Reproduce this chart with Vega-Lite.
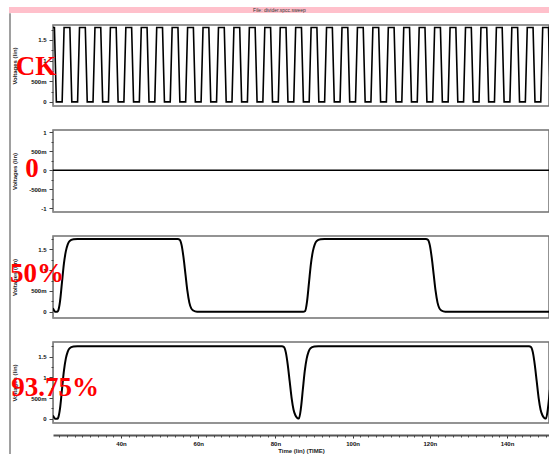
{
  "$schema": "https://vega.github.io/schema/vega-lite/v6.json",
  "padding": {"left": 8, "top": 7, "right": 0, "bottom": 0},
  "background": "white",
  "config": {"font": "Liberation Sans", "axis": {"grid": false}},
  "datasets": {
    "ck": [
      {"t": 22.0, "v": 1.8}, {"t": 22.75, "v": 1.8}, {"t": 23.25, "v": 0},
      {"t": 24.75, "v": 0}, {"t": 25.25, "v": 1.8}, {"t": 26.75, "v": 1.8}, {"t": 27.25, "v": 0},
      {"t": 28.75, "v": 0}, {"t": 29.25, "v": 1.8}, {"t": 30.75, "v": 1.8}, {"t": 31.25, "v": 0},
      {"t": 32.75, "v": 0}, {"t": 33.25, "v": 1.8}, {"t": 34.75, "v": 1.8}, {"t": 35.25, "v": 0},
      {"t": 36.75, "v": 0}, {"t": 37.25, "v": 1.8}, {"t": 38.75, "v": 1.8}, {"t": 39.25, "v": 0},
      {"t": 40.75, "v": 0}, {"t": 41.25, "v": 1.8}, {"t": 42.75, "v": 1.8}, {"t": 43.25, "v": 0},
      {"t": 44.75, "v": 0}, {"t": 45.25, "v": 1.8}, {"t": 46.75, "v": 1.8}, {"t": 47.25, "v": 0},
      {"t": 48.75, "v": 0}, {"t": 49.25, "v": 1.8}, {"t": 50.75, "v": 1.8}, {"t": 51.25, "v": 0},
      {"t": 52.75, "v": 0}, {"t": 53.25, "v": 1.8}, {"t": 54.75, "v": 1.8}, {"t": 55.25, "v": 0},
      {"t": 56.75, "v": 0}, {"t": 57.25, "v": 1.8}, {"t": 58.75, "v": 1.8}, {"t": 59.25, "v": 0},
      {"t": 60.75, "v": 0}, {"t": 61.25, "v": 1.8}, {"t": 62.75, "v": 1.8}, {"t": 63.25, "v": 0},
      {"t": 64.75, "v": 0}, {"t": 65.25, "v": 1.8}, {"t": 66.75, "v": 1.8}, {"t": 67.25, "v": 0},
      {"t": 68.75, "v": 0}, {"t": 69.25, "v": 1.8}, {"t": 70.75, "v": 1.8}, {"t": 71.25, "v": 0},
      {"t": 72.75, "v": 0}, {"t": 73.25, "v": 1.8}, {"t": 74.75, "v": 1.8}, {"t": 75.25, "v": 0},
      {"t": 76.75, "v": 0}, {"t": 77.25, "v": 1.8}, {"t": 78.75, "v": 1.8}, {"t": 79.25, "v": 0},
      {"t": 80.75, "v": 0}, {"t": 81.25, "v": 1.8}, {"t": 82.75, "v": 1.8}, {"t": 83.25, "v": 0},
      {"t": 84.75, "v": 0}, {"t": 85.25, "v": 1.8}, {"t": 86.75, "v": 1.8}, {"t": 87.25, "v": 0},
      {"t": 88.75, "v": 0}, {"t": 89.25, "v": 1.8}, {"t": 90.75, "v": 1.8}, {"t": 91.25, "v": 0},
      {"t": 92.75, "v": 0}, {"t": 93.25, "v": 1.8}, {"t": 94.75, "v": 1.8}, {"t": 95.25, "v": 0},
      {"t": 96.75, "v": 0}, {"t": 97.25, "v": 1.8}, {"t": 98.75, "v": 1.8}, {"t": 99.25, "v": 0},
      {"t": 100.75, "v": 0}, {"t": 101.25, "v": 1.8}, {"t": 102.75, "v": 1.8}, {"t": 103.25, "v": 0},
      {"t": 104.75, "v": 0}, {"t": 105.25, "v": 1.8}, {"t": 106.75, "v": 1.8}, {"t": 107.25, "v": 0},
      {"t": 108.75, "v": 0}, {"t": 109.25, "v": 1.8}, {"t": 110.75, "v": 1.8}, {"t": 111.25, "v": 0},
      {"t": 112.75, "v": 0}, {"t": 113.25, "v": 1.8}, {"t": 114.75, "v": 1.8}, {"t": 115.25, "v": 0},
      {"t": 116.75, "v": 0}, {"t": 117.25, "v": 1.8}, {"t": 118.75, "v": 1.8}, {"t": 119.25, "v": 0},
      {"t": 120.75, "v": 0}, {"t": 121.25, "v": 1.8}, {"t": 122.75, "v": 1.8}, {"t": 123.25, "v": 0},
      {"t": 124.75, "v": 0}, {"t": 125.25, "v": 1.8}, {"t": 126.75, "v": 1.8}, {"t": 127.25, "v": 0},
      {"t": 128.75, "v": 0}, {"t": 129.25, "v": 1.8}, {"t": 130.75, "v": 1.8}, {"t": 131.25, "v": 0},
      {"t": 132.75, "v": 0}, {"t": 133.25, "v": 1.8}, {"t": 134.75, "v": 1.8}, {"t": 135.25, "v": 0},
      {"t": 136.75, "v": 0}, {"t": 137.25, "v": 1.8}, {"t": 138.75, "v": 1.8}, {"t": 139.25, "v": 0},
      {"t": 140.75, "v": 0}, {"t": 141.25, "v": 1.8}, {"t": 142.75, "v": 1.8}, {"t": 143.25, "v": 0},
      {"t": 144.75, "v": 0}, {"t": 145.25, "v": 1.8}, {"t": 146.75, "v": 1.8}, {"t": 147.25, "v": 0},
      {"t": 148.75, "v": 0}, {"t": 149.25, "v": 1.8}, {"t": 150.75, "v": 1.8}, {"t": 151.25, "v": 0}
    ],
    "zero": [{"t": 22.0, "v": 0}, {"t": 151.5, "v": 0}],
    "q50": [
      {"t": 22.0, "v": 0.06}, {"t": 22.4, "v": 0.07}, {"t": 22.9, "v": 0.0}, {"t": 23.5, "v": 0.0},
      {"t": 23.7, "v": 0.02}, {"t": 24.2, "v": 0.25}, {"t": 24.7, "v": 0.7}, {"t": 25.2, "v": 1.15}, {"t": 25.7, "v": 1.45}, {"t": 26.2, "v": 1.62}, {"t": 26.7, "v": 1.7}, {"t": 27.7, "v": 1.74}, {"t": 28.7, "v": 1.75},
      {"t": 54.7, "v": 1.75}, {"t": 55.2, "v": 1.73}, {"t": 55.7, "v": 1.6}, {"t": 56.2, "v": 1.3}, {"t": 56.7, "v": 0.9}, {"t": 57.2, "v": 0.5}, {"t": 57.7, "v": 0.22}, {"t": 58.2, "v": 0.08}, {"t": 58.7, "v": 0.03}, {"t": 59.7, "v": 0},
      {"t": 87.2, "v": 0}, {"t": 87.7, "v": 0.02}, {"t": 88.2, "v": 0.25}, {"t": 88.7, "v": 0.7}, {"t": 89.2, "v": 1.15}, {"t": 89.7, "v": 1.45}, {"t": 90.2, "v": 1.62}, {"t": 90.7, "v": 1.7}, {"t": 91.7, "v": 1.74}, {"t": 92.7, "v": 1.75},
      {"t": 119.0, "v": 1.75}, {"t": 119.5, "v": 1.73}, {"t": 120.0, "v": 1.6}, {"t": 120.5, "v": 1.3}, {"t": 121.0, "v": 0.9}, {"t": 121.5, "v": 0.5}, {"t": 122.0, "v": 0.22}, {"t": 122.5, "v": 0.08}, {"t": 123.0, "v": 0.03}, {"t": 124.0, "v": 0}, {"t": 151.5, "v": 0}
    ],
    "q94": [
      {"t": 22.0, "v": 0.06}, {"t": 22.4, "v": 0.07}, {"t": 22.9, "v": 0.0}, {"t": 23.5, "v": 0.0},
      {"t": 23.7, "v": 0.02}, {"t": 24.2, "v": 0.25}, {"t": 24.7, "v": 0.7}, {"t": 25.2, "v": 1.15}, {"t": 25.7, "v": 1.45}, {"t": 26.2, "v": 1.62}, {"t": 26.7, "v": 1.7}, {"t": 27.7, "v": 1.74}, {"t": 28.7, "v": 1.75},
      {"t": 81.7, "v": 1.75}, {"t": 82.2, "v": 1.73}, {"t": 82.7, "v": 1.6}, {"t": 83.2, "v": 1.3}, {"t": 83.7, "v": 0.9}, {"t": 84.2, "v": 0.5}, {"t": 84.7, "v": 0.22}, {"t": 85.2, "v": 0.08}, {"t": 85.7, "v": 0.02}, {"t": 86.1, "v": 0.01},
      {"t": 86.6, "v": 0.25}, {"t": 87.1, "v": 0.7}, {"t": 87.6, "v": 1.15}, {"t": 88.1, "v": 1.45}, {"t": 88.6, "v": 1.62}, {"t": 89.1, "v": 1.7}, {"t": 90.1, "v": 1.74}, {"t": 91.1, "v": 1.75},
      {"t": 145.7, "v": 1.75}, {"t": 146.2, "v": 1.73}, {"t": 146.7, "v": 1.6}, {"t": 147.2, "v": 1.3}, {"t": 147.7, "v": 0.9}, {"t": 148.2, "v": 0.5}, {"t": 148.7, "v": 0.22}, {"t": 149.2, "v": 0.08}, {"t": 149.7, "v": 0.02}, {"t": 150.1, "v": 0.01},
      {"t": 150.6, "v": 0.25}, {"t": 151.1, "v": 0.7}
    ]
  },
  "bounds": "flush",
  "spacing": 0,
  "vconcat": [
    {
      "width": 541,
      "height": 6,
      "view": {"fill": "#ffc0cb", "stroke": null},
      "data": {"values": [{"label": "File: divider.spcc.sweep"}]},
      "mark": {"type": "text", "fontSize": 5, "color": "#333", "baseline": "middle", "align": "center"},
      "encoding": {"text": {"field": "label"}}
    },
    {
      "bounds": "flush",
      "spacing": 43,
      "hconcat": [
        {
          "width": 1,
          "height": 445,
          "view": {"stroke": "#a0a0a0", "strokeWidth": 1, "fill": null},
          "data": {"values": []},
          "mark": "rule",
          "encoding": {}
        },
        {
          "bounds": "flush",
          "spacing": 11,
          "vconcat": [
            {
              "width": 496,
              "height": 1,
              "view": {"stroke": null},
              "data": {"values": []},
              "mark": "rule",
              "encoding": {}
            },
            {
              "bounds": "flush",
              "spacing": 24,
              "vconcat": [
                {
                  "width": 496,
                  "height": 81,
                  "view": {"stroke": "#707070", "strokeWidth": 1.5},
                  "resolve": {"axis": {"y": "independent"}},
                  "layer": [
                    {
                      "data": {"name": "ck"},
                      "mark": {"type": "line", "color": "black", "strokeWidth": 1.6, "clip": true},
                      "encoding": {
                        "x": {"field": "t", "type": "quantitative", "scale": {"domain": [22.38, 150.88], "nice": false, "zero": false}, "axis": null},
                        "y": {"field": "v", "type": "quantitative", "scale": {"domain": [-0.1, 1.86], "nice": false, "zero": false},
                          "axis": {"orient": "left", "values": [0, 0.5, 1, 1.5], "labelExpr": "datum.value == 0 ? '0' : (abs(datum.value) < 1 ? (datum.value * 1000) + 'm' : '' + datum.value)", "tickSize": 4, "tickColor": "#444", "labelPadding": 3, "labelFontSize": 6, "labelFontWeight": "bold", "labelColor": "#111", "domainColor": "#888", "title": "Voltages (lin)", "titleFontSize": 6, "titleFontWeight": "bold", "titleColor": "#222", "titleX": -36, "labelOverlap": false, "labelFlush": false}}
                      }
                    },
                    {
                      "data": {"values": [{"label": "CK", "t": 17.98, "v": 0.84}]},
                      "mark": {"type": "text", "font": "Liberation Serif", "fontWeight": "bold", "fontSize": 27, "color": "#ff0000", "align": "center", "baseline": "middle"},
                      "encoding": {
                        "x": {"field": "t", "type": "quantitative", "scale": {"domain": [22.38, 150.88], "nice": false, "zero": false}, "axis": null},
                        "y": {"field": "v", "type": "quantitative", "scale": {"domain": [-0.1, 1.86], "nice": false, "zero": false},
                          "axis": {"orient": "left", "values": [0.25, 0.75, 1.25, 1.75], "tickSize": 2, "tickColor": "#444", "labels": false, "domain": false, "title": null}},
                        "text": {"field": "label"}
                      }
                    }
                  ]
                },
                {
                  "width": 496,
                  "height": 82,
                  "view": {"stroke": "#707070", "strokeWidth": 1.5},
                  "resolve": {"axis": {"y": "independent"}},
                  "layer": [
                    {
                      "data": {"name": "zero"},
                      "mark": {"type": "line", "color": "black", "strokeWidth": 1.6, "clip": true},
                      "encoding": {
                        "x": {"field": "t", "type": "quantitative", "scale": {"domain": [22.38, 150.88], "nice": false, "zero": false}, "axis": null},
                        "y": {"field": "v", "type": "quantitative", "scale": {"domain": [-1.1, 1.06], "nice": false, "zero": false},
                          "axis": {"orient": "left", "values": [-1, -0.5, 0, 0.5, 1], "labelExpr": "datum.value == 0 ? '0' : (abs(datum.value) < 1 ? (datum.value * 1000) + 'm' : '' + datum.value)", "tickSize": 4, "tickColor": "#444", "labelPadding": 3, "labelFontSize": 6, "labelFontWeight": "bold", "labelColor": "#111", "domainColor": "#888", "title": "Voltages (lin)", "titleFontSize": 6, "titleFontWeight": "bold", "titleColor": "#222", "titleX": -36, "labelOverlap": false, "labelFlush": false}}
                      }
                    },
                    {
                      "data": {"values": [{"label": "0", "t": 16.94, "v": 0.03}]},
                      "mark": {"type": "text", "font": "Liberation Serif", "fontWeight": "bold", "fontSize": 27, "color": "#ff0000", "align": "center", "baseline": "middle"},
                      "encoding": {
                        "x": {"field": "t", "type": "quantitative", "scale": {"domain": [22.38, 150.88], "nice": false, "zero": false}, "axis": null},
                        "y": {"field": "v", "type": "quantitative", "scale": {"domain": [-1.1, 1.06], "nice": false, "zero": false},
                          "axis": {"orient": "left", "values": [-0.75, -0.25, 0.25, 0.75], "tickSize": 2, "tickColor": "#444", "labels": false, "domain": false, "title": null}},
                        "text": {"field": "label"}
                      }
                    }
                  ]
                },
                {
                  "width": 496,
                  "height": 82,
                  "view": {"stroke": "#707070", "strokeWidth": 1.5},
                  "resolve": {"axis": {"y": "independent"}},
                  "layer": [
                    {
                      "data": {"name": "q50"},
                      "mark": {"type": "line", "color": "black", "strokeWidth": 2, "clip": true, "interpolate": "monotone"},
                      "encoding": {
                        "x": {"field": "t", "type": "quantitative", "scale": {"domain": [22.38, 150.88], "nice": false, "zero": false}, "axis": null},
                        "y": {"field": "v", "type": "quantitative", "scale": {"domain": [-0.15, 1.82], "nice": false, "zero": false},
                          "axis": {"orient": "left", "values": [0, 0.5, 1, 1.5], "labelExpr": "datum.value == 0 ? '0' : (abs(datum.value) < 1 ? (datum.value * 1000) + 'm' : '' + datum.value)", "tickSize": 4, "tickColor": "#444", "labelPadding": 3, "labelFontSize": 6, "labelFontWeight": "bold", "labelColor": "#111", "domainColor": "#888", "title": "Voltages (lin)", "titleFontSize": 6, "titleFontWeight": "bold", "titleColor": "#222", "titleX": -36, "labelOverlap": false, "labelFlush": false}}
                      }
                    },
                    {
                      "data": {"values": [{"label": "50%", "t": 18.24, "v": 0.91}]},
                      "mark": {"type": "text", "font": "Liberation Serif", "fontWeight": "bold", "fontSize": 27, "color": "#ff0000", "align": "center", "baseline": "middle"},
                      "encoding": {
                        "x": {"field": "t", "type": "quantitative", "scale": {"domain": [22.38, 150.88], "nice": false, "zero": false}, "axis": null},
                        "y": {"field": "v", "type": "quantitative", "scale": {"domain": [-0.15, 1.82], "nice": false, "zero": false},
                          "axis": {"orient": "left", "values": [0.25, 0.75, 1.25, 1.75], "tickSize": 2, "tickColor": "#444", "labels": false, "domain": false, "title": null}},
                        "text": {"field": "label"}
                      }
                    }
                  ]
                },
                {
                  "width": 496,
                  "height": 81,
                  "view": {"stroke": "#707070", "strokeWidth": 1.5},
                  "resolve": {"axis": {"x": "independent", "y": "independent"}},
                  "layer": [
                    {
                      "data": {"name": "q94"},
                      "mark": {"type": "line", "color": "black", "strokeWidth": 2, "clip": true, "interpolate": "monotone"},
                      "encoding": {
                        "x": {"field": "t", "type": "quantitative", "scale": {"domain": [22.38, 150.88], "nice": false, "zero": false},
                          "axis": {"orient": "bottom", "offset": 12, "values": [40, 60, 80, 100, 120, 140], "labelExpr": "datum.value + 'n'", "labelFontSize": 6, "labelFontWeight": "bold", "labelColor": "#111", "labelPadding": 2, "tickSize": 3, "tickColor": "#333", "domainColor": "#555", "domainWidth": 2, "title": "Time (lin) (TIME)", "titleFontSize": 6, "titleFontWeight": "bold", "titleColor": "#222", "titlePadding": 1, "labelFlush": false, "labelOverlap": false}},
                        "y": {"field": "v", "type": "quantitative", "scale": {"domain": [-0.1, 1.85], "nice": false, "zero": false},
                          "axis": {"orient": "left", "values": [0, 0.5, 1, 1.5], "labelExpr": "datum.value == 0 ? '0' : (abs(datum.value) < 1 ? (datum.value * 1000) + 'm' : '' + datum.value)", "tickSize": 4, "tickColor": "#444", "labelPadding": 3, "labelFontSize": 6, "labelFontWeight": "bold", "labelColor": "#111", "domainColor": "#888", "title": "Voltages (lin)", "titleFontSize": 6, "titleFontWeight": "bold", "titleColor": "#222", "titleX": -36, "labelOverlap": false, "labelFlush": false}}
                      }
                    },
                    {
                      "data": {"values": [{"label": "93.75%", "t": 22.9, "v": 0.74}]},
                      "mark": {"type": "text", "font": "Liberation Serif", "fontWeight": "bold", "fontSize": 27, "color": "#ff0000", "align": "center", "baseline": "middle"},
                      "encoding": {
                        "x": {"field": "t", "type": "quantitative", "scale": {"domain": [22.38, 150.88], "nice": false, "zero": false},
                          "axis": {"orient": "bottom", "offset": 12, "values": [24, 26, 28, 30, 32, 34, 36, 38, 42, 44, 46, 48, 50, 52, 54, 56, 58, 62, 64, 66, 68, 70, 72, 74, 76, 78, 82, 84, 86, 88, 90, 92, 94, 96, 98, 102, 104, 106, 108, 110, 112, 114, 116, 118, 122, 124, 126, 128, 130, 132, 134, 136, 138, 142, 144, 146, 148, 150], "tickSize": 2, "tickColor": "#444", "labels": false, "domain": false, "title": null}},
                        "y": {"field": "v", "type": "quantitative", "scale": {"domain": [-0.1, 1.85], "nice": false, "zero": false},
                          "axis": {"orient": "left", "values": [0.25, 0.75, 1.25, 1.75], "tickSize": 2, "tickColor": "#444", "labels": false, "domain": false, "title": null}},
                        "text": {"field": "label"}
                      }
                    }
                  ]
                }
              ]
            }
          ]
        }
      ]
    }
  ]
}
